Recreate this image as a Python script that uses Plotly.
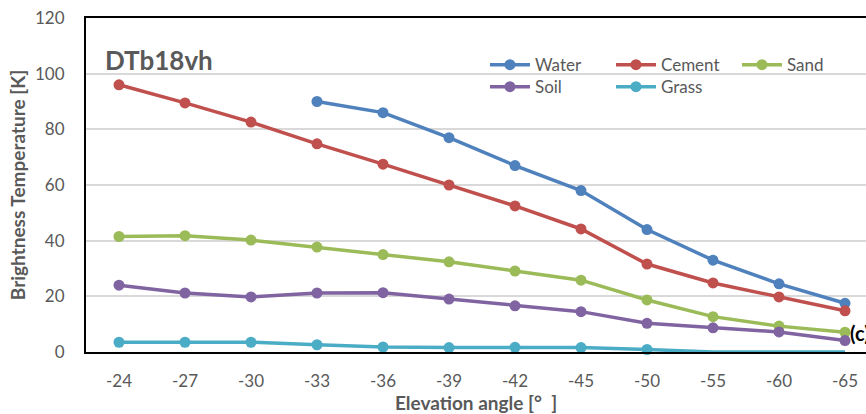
import plotly.graph_objects as go

categories = ["-24", "-27", "-30", "-33", "-36", "-39", "-42", "-45", "-50", "-55", "-60", "-65"]
water = [None, None, None, 90, 86, 77, 67, 58, 44, 33, 24.5, 17.5]
cement = [96, 89.5, 82.6, 74.8, 67.5, 60, 52.5, 44.2, 31.6, 24.8, 19.8, 14.8]
sand = [41.5, 41.8, 40.2, 37.7, 35, 32.4, 29.1, 25.8, 18.7, 12.7, 9.3, 7.1]
soil = [24, 21.2, 19.8, 21.2, 21.3, 19, 16.6, 14.5, 10.3, 8.7, 7.2, 4.1]
grass = [3.5, 3.5, 3.5, 2.6, 1.8, 1.6, 1.7, 1.6, 0.9, 0, 0, 0]
grass_marked = 9  # points with a visible marker (the rest sit on the axis, no marker)

font = "Lato, 'Open Sans', sans-serif"
grey = "#595959"

series = [
    ("Water", water, "#4F81BD", "legend"),
    ("Cement", cement, "#C0504D", "legend"),
    ("Sand", sand, "#9BBB59", "legend"),
    ("Soil", soil, "#8064A2", "legend2"),
]

fig = go.Figure()
for name, vals, col, lg in series:
    fig.add_trace(go.Scatter(
        x=categories, y=vals, name=name, mode="lines+markers",
        line=dict(color=col, width=3.5), marker=dict(color=col, size=11),
        cliponaxis=False, legend=lg,
    ))
# Grass: tail drawn without markers
fig.add_trace(go.Scatter(
    x=categories[grass_marked - 1:], y=grass[grass_marked - 1:], mode="lines",
    line=dict(color="#4BACC6", width=3.5), showlegend=False, cliponaxis=False,
))
fig.add_trace(go.Scatter(
    x=categories[:grass_marked], y=grass[:grass_marked], name="Grass", mode="lines+markers",
    line=dict(color="#4BACC6", width=3.5), marker=dict(color="#4BACC6", size=11),
    cliponaxis=False, legend="legend2",
))

leg_common = dict(
    orientation="h", xanchor="left", yanchor="middle",
    entrywidth=71, itemwidth=40, font=dict(size=17, color=grey, family=font),
    bgcolor="rgba(0,0,0,0)",
)
fig.update_layout(
    width=866, height=414,
    margin=dict(l=86, r=0, t=18, b=62, autoexpand=False),
    plot_bgcolor="white", paper_bgcolor="white",
    font=dict(family=font, color=grey, size=17),
    legend=dict(x=0.5115, y=0.859, **leg_common),
    legend2=dict(x=0.5115, y=0.793, **leg_common),
    xaxis=dict(
        type="category", range=[-0.5, 11.318],
        showline=True, linecolor="black", linewidth=2, mirror=True,
        showgrid=False, ticks="", ticklabelstandoff=13,
        tickfont=dict(size=17, color=grey),
        title=dict(text="<b>Elevation angle [°\u00a0\u00a0]</b>", font=dict(size=19, color=grey), standoff=5),
    ),
    yaxis=dict(
        range=[0, 120], dtick=20,
        showline=True, linecolor="black", linewidth=2, mirror=True,
        gridcolor="#D9D9D9", gridwidth=1.5, zeroline=False, ticks="",
        ticklabelstandoff=16,
        tickfont=dict(size=17, color=grey),
        title=dict(text="<b>Brightness Temperature [K]</b>", font=dict(size=19, color=grey), standoff=4),
    ),
)

fig.add_annotation(
    text="<b>DTb18vh</b>", xref="paper", yref="paper", x=0.022, y=0.875,
    xanchor="left", yanchor="middle", showarrow=False,
    font=dict(size=26, color=grey, family=font),
)
fig.add_annotation(
    text="<b>(c)</b>", xref="paper", yref="paper", x=0.977, y=0.057,
    xanchor="left", yanchor="middle", showarrow=False,
    font=dict(size=20, color="black", family=font),
)

fig.write_html("out.html")
